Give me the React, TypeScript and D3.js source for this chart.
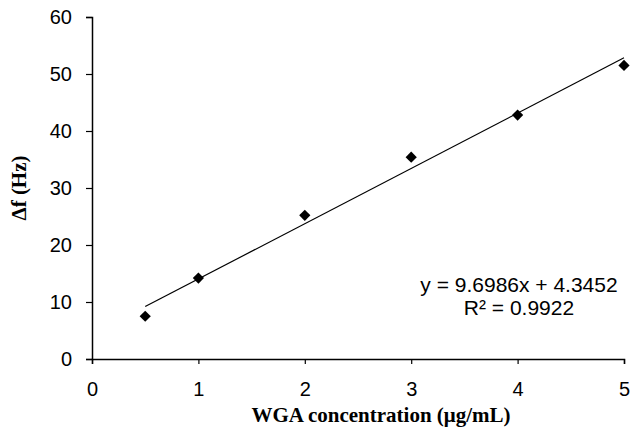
import React, { useRef, useEffect } from 'react';
import * as d3 from 'd3';

const concentrations = [0.5, 1, 2, 3, 4, 5];
const deltaF = [7.5, 14.2, 25.2, 35.4, 42.8, 51.5];
const xTicks = [0, 1, 2, 3, 4, 5];
const yTicks = [0, 10, 20, 30, 40, 50, 60];
const slope = 9.6986;
const intercept = 4.3452;
const eqLines = ['y = 9.6986x + 4.3452', 'R² = 0.9922'];

const width = 630;
const height = 429;
const margin = { top: 17, right: 6, bottom: 70, left: 92 };

const App = () => {
  const svgRef = useRef<SVGSVGElement>(null);

  useEffect(() => {
    const svg = d3.select(svgRef.current);
    svg.selectAll('*').remove();

    const x = d3.scaleLinear().domain([0, 5]).range([margin.left, width - margin.right]);
    const y = d3.scaleLinear().domain([0, 60]).range([height - margin.bottom, margin.top]);

    const axisFont = 'Liberation Sans, Arial, sans-serif';
    const titleFont = 'Liberation Serif, Times New Roman, serif';

    // y axis
    const gy = svg.append('g')
      .attr('transform', `translate(${margin.left},0)`)
      .call(d3.axisLeft(y).tickValues(yTicks).tickSize(6).tickPadding(14).tickFormat(d3.format('d')));
    gy.select('.domain').attr('stroke', '#000').attr('stroke-width', 1.5);
    gy.selectAll('.tick line').attr('stroke', '#000').attr('stroke-width', 1.2);
    gy.selectAll('.tick text').attr('font-family', axisFont).attr('font-size', 20).attr('fill', '#000');

    // x axis
    const gx = svg.append('g')
      .attr('transform', `translate(0,${height - margin.bottom})`)
      .call(d3.axisBottom(x).tickValues(xTicks).tickSize(5).tickPadding(18).tickFormat(d3.format('d')));
    gx.select('.domain').attr('stroke', '#000').attr('stroke-width', 1.5);
    gx.selectAll('.tick line').attr('stroke', '#000').attr('stroke-width', 1.2);
    gx.selectAll('.tick text').attr('font-family', axisFont).attr('font-size', 20).attr('fill', '#000');

    // trend line
    const x0 = d3.min(concentrations) as number;
    const x1 = d3.max(concentrations) as number;
    svg.append('line')
      .attr('x1', x(x0)).attr('y1', y(slope * x0 + intercept))
      .attr('x2', x(x1)).attr('y2', y(slope * x1 + intercept))
      .attr('stroke', '#000').attr('stroke-width', 1.2);

    // markers
    const diamond = d3.symbol().type(d3.symbolDiamond2).size(80);
    svg.append('g')
      .selectAll('path')
      .data(concentrations)
      .join('path')
      .attr('transform', (d, i) => `translate(${x(d)},${y(deltaF[i])})`)
      .attr('d', diamond)
      .attr('fill', '#000');

    // equation
    svg.append('g')
      .selectAll('text')
      .data(eqLines)
      .join('text')
      .attr('x', 519)
      .attr('y', (d, i) => 292 + i * 23)
      .attr('text-anchor', 'middle')
      .attr('font-family', axisFont)
      .attr('font-size', 21)
      .attr('fill', '#000')
      .text(d => d);

    // axis titles
    svg.append('text')
      .attr('x', 381)
      .attr('y', 422)
      .attr('text-anchor', 'middle')
      .attr('font-family', titleFont)
      .attr('font-weight', 'bold')
      .attr('font-size', 21)
      .text('WGA concentration (μg/mL)');

    svg.append('text')
      .attr('transform', `translate(26,${y(30)}) rotate(-90)`)
      .attr('text-anchor', 'middle')
      .attr('font-family', titleFont)
      .attr('font-weight', 'bold')
      .attr('font-size', 21)
      .text('Δf (Hz)');
  }, []);

  return (
    <svg
      ref={svgRef}
      width={width}
      height={height}
      style={{ position: 'absolute', left: 0, top: 0, background: '#fff' }}
    />
  );
};

export default App;
